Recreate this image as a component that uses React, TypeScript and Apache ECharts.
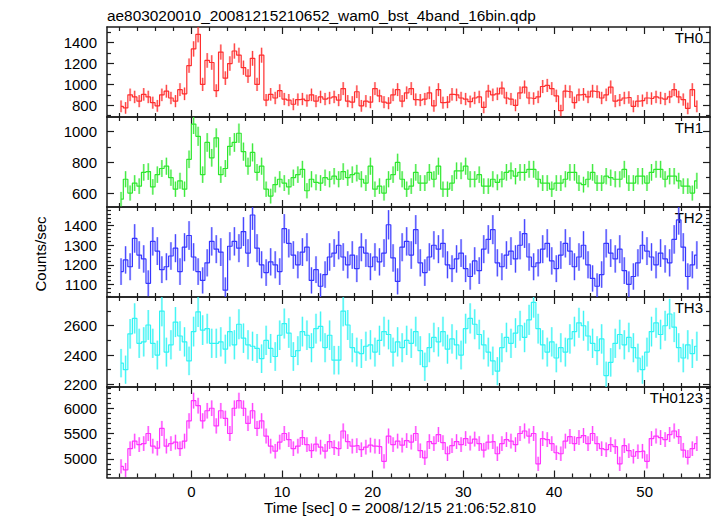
import React, { useEffect, useRef } from "react";
import * as echarts from "echarts";

// ---------- data (count rates, counts/sec) ----------
// bins of 0.5 s; first bin centre at -7.75 s
const BIN_START = -7.75;
const BIN_STEP = 0.5;
// exposure of one original light-curve bin (s), used for Poisson error bars
const BIN_EXPOSURE = 0.25;

const TH0 = [
  790, 775, 900, 880, 840, 905, 880, 825,
  795, 900, 935, 870, 840, 950, 910, 1180,
  1340, 1480, 1000, 1230, 1210, 940, 1310, 1060,
  1200, 1320, 1280, 1160, 1080, 1250, 1000, 1280,
  850, 905, 870, 940, 860, 850, 810, 855,
  860, 845, 900, 840, 880, 860, 870, 880,
  850, 960, 840, 830, 930, 795, 840, 830,
  960, 890, 830, 820, 900, 950, 840, 920,
  960, 855, 850, 860, 920, 795, 950, 825,
  830, 905, 900, 870, 860, 835, 870, 880,
  780, 935, 900, 910, 965, 870, 860, 800,
  920, 975, 870, 865, 880, 980, 990, 960,
  890, 750, 935, 930, 825, 900, 905, 880,
  935, 930, 870, 900, 975, 840, 850, 870,
  875, 790, 840, 845, 870, 865, 880, 870,
  860, 880, 950, 880, 855, 770, 950, 790,
];

const TH1 = [
  560, 690, 600, 665, 645, 735, 740, 640,
  720, 760, 775, 700, 625, 680, 625, 820,
  1050, 970, 720, 930, 830, 960, 720, 760,
  905, 930, 990, 870, 775, 865, 735, 775,
  625, 580, 655, 690, 665, 640, 700, 720,
  755, 615, 690, 670, 665, 700, 690, 710,
  690, 740, 700, 720, 730, 690, 665, 775,
  625, 645, 600, 690, 720, 800, 690, 625,
  645, 735, 665, 665, 735, 690, 775, 625,
  625, 665, 745, 745, 775, 690, 690, 720,
  645, 645, 690, 670, 690, 735, 745, 710,
  735, 735, 755, 755, 690, 665, 665, 625,
  665, 665, 690, 735, 735, 665, 655, 690,
  735, 665, 665, 710, 700, 690, 690, 755,
  665, 665, 710, 710, 665, 735, 755, 755,
  690, 710, 710, 680, 645, 645, 600, 680,
];

const TH2 = [
  1165, 1225, 1190, 1335, 1250, 1230, 1105, 1320,
  1270, 1175, 1190, 1245, 1285, 1165, 1290, 1350,
  1240, 1165, 1120, 1210, 1320, 1280, 1265, 1070,
  1295, 1320, 1285, 1370, 1260, 1455, 1285, 1200,
  1160, 1215, 1200, 1165, 1385, 1310, 1250, 1200,
  1265, 1290, 1120, 1175, 1090, 1150, 1240, 1260,
  1300, 1240, 1200, 1250, 1180, 1290, 1260, 1190,
  1240, 1215, 1260, 1405, 1235, 1115, 1290, 1320,
  1250, 1380, 1210, 1160, 1240, 1300, 1280, 1310,
  1200, 1180, 1230, 1260, 1180, 1140, 1220, 1170,
  1280, 1330, 1380, 1210, 1190, 1250, 1270, 1230,
  1300, 1360, 1240, 1190, 1210, 1280, 1310, 1220,
  1180, 1250, 1310, 1270, 1190, 1240, 1300, 1200,
  1130, 1090, 1150, 1310, 1260, 1230, 1280, 1170,
  1100, 1140, 1210, 1300, 1270, 1240, 1200, 1260,
  1230, 1210, 1330, 1430, 1290, 1140, 1200, 1250,
];

const TH3 = [
  2345, 2300, 2545, 2650, 2480, 2490, 2605, 2480,
  2400, 2700, 2420, 2470, 2625, 2530, 2490, 2360,
  2560, 2695, 2570, 2580, 2480, 2480, 2490, 2440,
  2560, 2470, 2610, 2515, 2470, 2460, 2445, 2375,
  2500, 2445, 2390, 2535, 2615, 2550, 2390, 2430,
  2560, 2535, 2450, 2580, 2595, 2450, 2535, 2365,
  2365, 2700, 2605, 2450, 2420, 2410, 2460, 2470,
  2420, 2500, 2560, 2540, 2420, 2490, 2450, 2500,
  2480, 2560, 2430, 2320, 2450, 2520, 2490, 2560,
  2440, 2510, 2470, 2400, 2580, 2650, 2610, 2540,
  2470, 2420, 2360, 2290, 2450, 2520, 2480, 2550,
  2600, 2520, 2640, 2760, 2580, 2470, 2420, 2490,
  2380, 2450, 2420, 2510, 2560, 2620, 2600, 2530,
  2480, 2430, 2510, 2260, 2350, 2480, 2540, 2470,
  2520, 2450, 2380, 2300, 2420, 2560, 2620, 2540,
  2600, 2680, 2590, 2450, 2380, 2470, 2410, 2460,
];

const TH0123 = [
  4850, 4780, 5200, 5350, 5280, 5300, 5500, 5250,
  5210, 5600, 5250, 5300, 5330, 5200, 5350, 5750,
  6150, 6050, 5750, 5950, 6000, 5650, 5950, 5800,
  5500, 6000, 6150, 6000, 5700, 5950, 5600, 5750,
  5450, 5250, 5150, 5330, 5500, 5380, 5200, 5250,
  5420, 5280, 5160, 5290, 5230, 5150, 5340, 5220,
  5200, 5550, 5340, 5250, 5260, 5180, 5230, 5270,
  5250, 5240, 4950, 5450, 5280, 5350, 5270, 5360,
  5330, 5500, 5160, 5020, 5340, 5300, 5480, 5320,
  5100, 5260, 5340, 5280, 5400, 5310, 5390, 5300,
  5170, 5330, 5340, 5100, 5300, 5380, 5350, 5280,
  5500, 5550, 5450, 5500, 4900, 5400, 5380, 5300,
  5120, 5100, 5350, 5440, 5300, 5420, 5460, 5300,
  5500, 5300, 5200, 5180, 5280, 5240, 4900, 5260,
  5160, 5050, 5140, 5150, 4950, 5400, 5450, 5420,
  5380, 5480, 5550, 5440, 5170, 5030, 5200, 5300,
];

// ---------- axes / ticks ----------
const X_MIN = -9.3;
const X_MAX = 57.2;
const X_MAJOR = [0, 10, 20, 30, 40, 50];
const X_MINOR = [-8, -6, -4, -2, 2, 4, 6, 8, 12, 14, 16, 18, 22, 24, 26, 28, 32, 34, 36, 38, 42, 44, 46, 48, 52, 54, 56];

const TH0_MAJOR = [800, 1000, 1200, 1400];
const TH0_MINOR = [700, 900, 1100, 1300, 1500];
const TH1_MAJOR = [600, 800, 1000];
const TH1_MINOR = [700, 900];
const TH2_MAJOR = [1100, 1200, 1300, 1400];
const TH2_MINOR = [1040, 1060, 1080, 1120, 1140, 1160, 1180, 1220, 1240, 1260, 1280, 1320, 1340, 1360, 1380, 1420, 1440, 1460, 1480];
const TH3_MAJOR = [2200, 2400, 2600];
const TH3_MINOR = [2300, 2500, 2700];
const TH0123_MAJOR = [5000, 5500, 6000];
const TH0123_MINOR = [4700, 4800, 4900, 5100, 5200, 5300, 5400, 5600, 5700, 5800, 5900, 6100, 6200, 6300, 6400];

const PANELS = [
  { label: "TH0", color: "#ff2e2e", values: TH0, min: 688, max: 1550, major: TH0_MAJOR, minor: TH0_MINOR },
  { label: "TH1", color: "#2ee82e", values: TH1, min: 509, max: 1096, major: TH1_MAJOR, minor: TH1_MINOR },
  { label: "TH2", color: "#3636ff", values: TH2, min: 1035, max: 1496, major: TH2_MAJOR, minor: TH2_MINOR },
  { label: "TH3", color: "#30f4f4", values: TH3, min: 2182, max: 2796, major: TH3_MAJOR, minor: TH3_MINOR },
  { label: "TH0123", color: "#ff33ff", values: TH0123, min: 4630, max: 6420, major: TH0123_MAJOR, minor: TH0123_MINOR },
];

const TITLE = "ae803020010_20081215210652_wam0_bst_4band_16bin.qdp";
const X_NAME = "Time [sec] 0 = 2008/12/15 21:06:52.810";
const Y_NAME = "Counts/sec";

const FONT = '"Liberation Sans", Arial, Helvetica, sans-serif';
const AXIS_COLOR = "#1c1c1c";
const GRID_LEFT = 107;
const GRID_RIGHT = 7;
const GRID_TOPS = [27, 117, 207, 297, 387];
const GRID_H = 90;

const plain = (v: number) => String(v);

function buildOption() {
  const grids: any[] = [];
  const xAxes: any[] = [];
  const yAxes: any[] = [];
  const series: any[] = [];
  const graphics: any[] = [];

  PANELS.forEach((p, gi) => {
    grids.push({ left: GRID_LEFT, right: GRID_RIGHT, top: GRID_TOPS[gi], height: gi === 4 ? GRID_H + 0.5 : GRID_H, containLabel: false });
    const lastPanel = gi === PANELS.length - 1;
    const lineOn = { show: true, onZero: false, lineStyle: { color: AXIS_COLOR, width: 1.5 } };
    const lineOff = { show: false, onZero: false };
    const tickStyle = { color: AXIS_COLOR, width: 1.2 };
    const xBase = { type: "value", gridIndex: gi, min: X_MIN, max: X_MAX, splitLine: { show: false } };
    const majorX = { inside: true, length: 7, customValues: X_MAJOR, lineStyle: tickStyle };
    const minorX = { inside: true, length: 4, customValues: X_MINOR, lineStyle: tickStyle };
    xAxes.push({
      ...xBase, position: "bottom", axisLine: lineOn, axisTick: majorX,
      axisLabel: { show: lastPanel, customValues: X_MAJOR, formatter: plain, fontSize: 15, fontFamily: FONT, color: "#000", margin: 6 },
    });
    xAxes.push({ ...xBase, position: "bottom", axisLine: lineOff, axisTick: minorX, axisLabel: { show: false } });
    xAxes.push({ ...xBase, position: "top", axisLine: lineOn, axisTick: majorX, axisLabel: { show: false } });
    xAxes.push({ ...xBase, position: "top", axisLine: lineOff, axisTick: minorX, axisLabel: { show: false } });

    const yBase = { type: "value", gridIndex: gi, min: p.min, max: p.max, splitLine: { show: false } };
    const majorY = { inside: true, length: 7, customValues: p.major, lineStyle: tickStyle };
    const minorY = { inside: true, length: 4, customValues: p.minor, lineStyle: tickStyle };
    yAxes.push({
      ...yBase, position: "left", axisLine: lineOn, axisTick: majorY,
      axisLabel: { show: true, customValues: p.major, formatter: plain, fontSize: 15, fontFamily: FONT, color: "#000", margin: 10 },
    });
    yAxes.push({ ...yBase, position: "left", axisLine: lineOff, axisTick: minorY, axisLabel: { show: false } });
    yAxes.push({ ...yBase, position: "right", axisLine: lineOn, axisTick: majorY, axisLabel: { show: false } });
    yAxes.push({ ...yBase, position: "right", axisLine: lineOff, axisTick: minorY, axisLabel: { show: false } });

    const pts = p.values.map((v, j) => [BIN_START + j * BIN_STEP, v, Math.sqrt(v / BIN_EXPOSURE)]);
    const color = p.color;
    series.push({
      type: "custom",
      xAxisIndex: gi * 4,
      yAxisIndex: gi * 4,
      clip: true,
      z: 2,
      data: pts,
      renderItem: (_params: any, api: any) => {
        const t = api.value(0);
        const v = api.value(1);
        const e = api.value(2);
        const a = api.coord([t, v + e]);
        const b = api.coord([t, v - e]);
        const w = api.size([BIN_STEP, 0])[0];
        return {
          type: "group",
          children: [
            { type: "rect", shape: { x: a[0] - w * 0.25, y: a[1], width: w * 0.5, height: b[1] - a[1] }, style: { fill: color, opacity: 0.32 } },
            { type: "line", shape: { x1: a[0], y1: a[1], x2: b[0], y2: b[1] }, style: { stroke: color, lineWidth: 1, opacity: 0.9 } },
          ],
        };
      },
    });
    series.push({
      type: "line",
      xAxisIndex: gi * 4,
      yAxisIndex: gi * 4,
      data: pts.map((d) => [d[0], d[1]]),
      step: "middle",
      symbol: "none",
      showSymbol: false,
      clip: true,
      z: 3,
      lineStyle: { color, width: 1.2 },
    });

    graphics.push({
      type: "text",
      x: 703,
      y: GRID_TOPS[gi] + 10,
      style: { text: p.label, align: "right", verticalAlign: "middle", fontSize: 15, fontFamily: FONT, fill: "#000" },
    });
  });

  graphics.push({
    type: "text", x: 107, y: 15.5,
    style: { text: TITLE, align: "left", verticalAlign: "middle", fontSize: 15.4, fontFamily: FONT, fill: "#000" },
  });
  graphics.push({
    type: "text", x: 400, y: 507.5,
    style: { text: X_NAME, align: "center", verticalAlign: "middle", fontSize: 15.4, fontFamily: FONT, fill: "#000" },
  });
  graphics.push({
    type: "text", x: 40, y: 254, rotation: Math.PI / 2,
    style: { text: Y_NAME, align: "center", verticalAlign: "middle", fontSize: 15, fontFamily: FONT, fill: "#000" },
  });

  return {
    animation: false,
    backgroundColor: "#ffffff",
    grid: grids,
    xAxis: xAxes,
    yAxis: yAxes,
    series,
    graphic: graphics,
  };
}

export default function App() {
  const ref = useRef<HTMLDivElement>(null);
  useEffect(() => {
    if (!ref.current) return;
    const chart = echarts.init(ref.current, undefined, { renderer: "svg" });
    chart.setOption(buildOption() as any);
    return () => chart.dispose();
  }, []);
  return (
    <div
      ref={ref}
      style={{ position: "absolute", left: 0, top: 0, width: 717, height: 516, background: "#fff" }}
    />
  );
}
